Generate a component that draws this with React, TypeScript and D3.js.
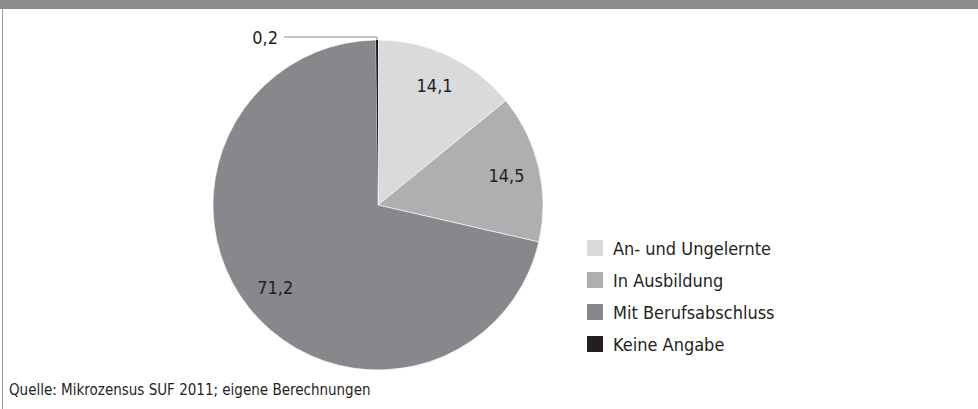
import React from "react";
import * as d3 from "d3";

const categories = ["An- und Ungelernte", "In Ausbildung", "Mit Berufsabschluss", "Keine Angabe"];
const values = [14.1, 14.5, 71.2, 0.2];
const labels = ["14,1", "14,5", "71,2", "0,2"];
const colors = ["#d9dadb", "#aeafb1", "#87888b", "#231f20"];

const W = 978;
const H = 409;
const FONT = "'DejaVu Sans Condensed', 'DejaVu Sans', sans-serif";

export default function App() {
  const cx = 378;
  const cy = 205;
  const r = 165;
  const pie = d3.pie<number>().sort(null).value((d) => d);
  const arcs = pie(values);
  const arcGen = d3.arc<d3.PieArcDatum<number>>().innerRadius(0).outerRadius(r);
  const labelArc = d3.arc<d3.PieArcDatum<number>>().innerRadius(r * 0.8).outerRadius(r * 0.8);

  const legendY = d3.scaleBand<number>().domain(d3.range(categories.length)).range([232, 360]).padding(0);

  const tiny = arcs[3];
  const tinyAngle = (tiny.startAngle + tiny.endAngle) / 2;
  const tx = cx + Math.sin(tinyAngle) * r;
  const ty = cy - Math.cos(tinyAngle) * r;

  return (
    <svg width={W} height={H} style={{ position: "absolute", left: 0, top: 0, display: "block" }}>
      <rect x={0} y={0} width={W} height={H} fill="#ffffff" />
      <rect x={0} y={0} width={W} height={9} fill="#8a8b8d" />
      <line x1={2.5} y1={9} x2={2.5} y2={H} stroke="#9a9b9d" strokeWidth={1} />
      <g transform={`translate(${cx},${cy})`}>
        {arcs.map((a, i) => (
          <path key={i} d={arcGen(a) || ""} fill={colors[i]} stroke="#ffffff" strokeWidth={i === 3 ? 0 : 0.6} />
        ))}
        {arcs.slice(0, 3).map((a, i) => {
          const [lx, ly] = labelArc.centroid(a);
          return (
            <text key={i} x={lx} y={ly} textAnchor="middle" dominantBaseline="central" fontFamily={FONT} fontSize={18} fill="#231f20">
              {labels[i]}
            </text>
          );
        })}
      </g>
      <polyline points={`${tx},${ty} ${tx},37 284,37`} fill="none" stroke="#8a8b8d" strokeWidth={1} />
      <text x={278} y={37} textAnchor="end" dominantBaseline="central" fontFamily={FONT} fontSize={18} fill="#231f20">
        {labels[3]}
      </text>
      {categories.map((c, i) => {
        const y = (legendY(i) || 0) + legendY.bandwidth() / 2;
        return (
          <g key={c}>
            <rect x={587} y={y - 8} width={16} height={16} fill={colors[i]} />
            <text x={613} y={y} dominantBaseline="central" fontFamily={FONT} fontSize={18} fill="#231f20">
              {c}
            </text>
          </g>
        );
      })}
      <text x={9} y={390} dominantBaseline="central" fontFamily={FONT} fontSize={15} fill="#231f20">
        Quelle: Mikrozensus SUF 2011; eigene Berechnungen
      </text>
    </svg>
  );
}
